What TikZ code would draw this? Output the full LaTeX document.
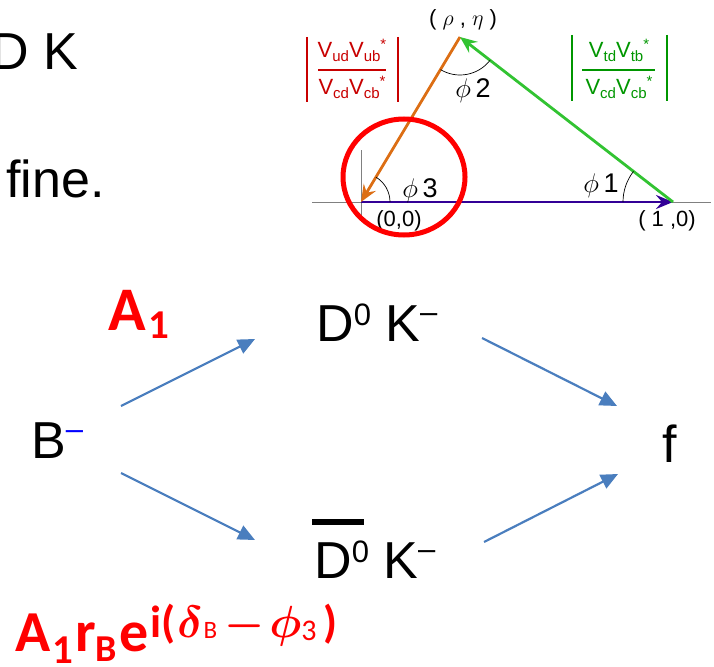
\documentclass[tikz,border=0pt]{standalone}
\usepackage{fix-cm}
\usepackage{fontspec}
\setmainfont{Liberation Sans}
\newfontfamily\calfont{Carlito}
\usetikzlibrary{arrows.meta}
\definecolor{arrowblue}{RGB}{74,126,190}
\definecolor{fracred}{RGB}{200,0,0}
\definecolor{fracgreen}{RGB}{0,150,0}
\definecolor{greenarrow}{RGB}{50,195,50}
\definecolor{orangearrow}{RGB}{220,110,20}
\definecolor{purplearrow}{RGB}{50,0,150}
\newcommand\mysup[1]{\raisebox{16pt}{\fontsize{31}{31}\selectfont #1}}
\newcommand\mysupm[1]{\raisebox{19pt}{\fontsize{31}{31}\selectfont\color{#1}–}}
\newcommand\lsub[1]{\raisebox{-4pt}{\fontsize{15}{15}\selectfont #1}}
\newcommand\lsup{\raisebox{8pt}{\fontsize{15}{15}\selectfont *}}
\tikzset{
  bigtxt/.style={font=\fontsize{52}{52}\selectfont, inner sep=0pt, anchor=base west},
  tritxt/.style={font=\fontsize{22}{22}\selectfont, inner sep=0pt},
  philab/.style={font=\fontsize{27}{27}\selectfont, inner sep=0pt},
  fractxt/.style={font=\fontsize{22}{22}\selectfont, inner sep=0pt, anchor=base},
  flow/.style={draw=arrowblue, line width=2.2pt, -{Triangle[length=17pt,width=15pt]}},
  vec/.style={line width=2.8pt, -{Stealth[length=17pt,width=14pt,inset=6pt]}},
  anglearc/.style={draw=black, line width=0.7pt},
  fracline/.style={line width=1.6pt}
}
\begin{document}
\begin{tikzpicture}[x=1pt,y=-1pt]
\useasboundingbox (0,0) rectangle (714,666);
\clip (0,0) rectangle (714,666);

% top-left cut text
\node[bigtxt] (dk) at (-9,70) {D K};
\node[bigtxt] (fine) at (6,197) {fine.};

% unitarity triangle
\coordinate (axL) at (312,202);
\coordinate (axR) at (711,202);
\coordinate (vT) at (361,150);
\coordinate (vB) at (361,222);
\coordinate (O) at (361,202);
\coordinate (P) at (673,202);
\coordinate (A) at (460,37);
\draw[gray, line width=0.8pt] (axL) -- (axR);
\draw[gray, line width=0.8pt] (vT) -- (vB);
\draw[vec, purplearrow] (O) -- (P);
\draw[vec, orangearrow] (A) -- (O);
\draw[vec, greenarrow] (P) -- (A);
\draw[anglearc] (O) ++(29,0) arc[start angle=0, end angle=-59, radius=29];
\draw[anglearc] (P) ++(-50,0) arc[start angle=180, end angle=217.76, radius=50];
\draw[anglearc] (A) ++(37.76:38) arc[start angle=37.76, end angle=120.96, radius=38];

\node[philab] (phi2) at (473,91) {$\phi$\,2};
\node[philab] (phi3) at (420,191) {$\phi$\,3};
\node[philab] (phi1) at (601,186) {$\phi$\,1};
\node[tritxt] (rhoeta) at (463,20) {( $\rho$ , $\eta$ )};
\node[tritxt] (orig) at (399,221) {(0,0)};
\node[tritxt] (one) at (667,221) {( 1 ,0)};

% red fraction
\node[fractxt, text=fracred] (n1) at (352,58) {V\lsub{ud}V\lsub{ub}\lsup};
\node[fractxt, text=fracred] (d1) at (352,95) {V\lsub{cd}V\lsub{cb}\lsup};
\coordinate (f1a) at (318,70); \coordinate (f1b) at (386,70);
\coordinate (b1a) at (307,37); \coordinate (b1b) at (307,102);
\coordinate (b1c) at (398,37); \coordinate (b1d) at (398,102);
\draw[fracred, fracline] (f1a) -- (f1b);
\draw[fracred, fracline] (b1a) -- (b1b);
\draw[fracred, fracline] (b1c) -- (b1d);

% green fraction
\node[fractxt, text=fracgreen] (n2) at (619,58) {V\lsub{td}V\lsub{tb}\lsup};
\node[fractxt, text=fracgreen] (d2) at (619,95) {V\lsub{cd}V\lsub{cb}\lsup};
\coordinate (f2a) at (582,70); \coordinate (f2b) at (655,70);
\coordinate (b2a) at (572,35); \coordinate (b2b) at (572,101);
\coordinate (b2c) at (667,35); \coordinate (b2d) at (667,101);
\draw[fracgreen, fracline] (f2a) -- (f2b);
\draw[fracgreen, fracline] (b2a) -- (b2b);
\draw[fracgreen, fracline] (b2c) -- (b2d);

% red circle
\draw[red, line width=5pt] (404,177) ellipse [x radius=61, y radius=58];

% decay diagram
\node[bigtxt] (bm) at (31,458) {B\mysupm{blue}};
\node[bigtxt] (dk1) at (316,341) {D\mysup{0} K\mysupm{black}};
\node[bigtxt] (dk2) at (314,578) {D\mysup{0} K\mysupm{black}};
\coordinate (barL) at (312,522); \coordinate (barR) at (364,522);
\draw[line width=6pt] (barL) -- (barR);
\node[bigtxt] (fin) at (662,462) {f};

\coordinate (a1s) at (121,406); \coordinate (a1e) at (255,339);
\coordinate (a2s) at (482,338); \coordinate (a2e) at (617,406);
\coordinate (a3s) at (121,473); \coordinate (a3e) at (255,540);
\coordinate (a4s) at (484,542); \coordinate (a4e) at (618,474);
\draw[flow] (a1s) -- (a1e);
\draw[flow] (a2s) -- (a2e);
\draw[flow] (a3s) -- (a3e);
\draw[flow] (a4s) -- (a4e);

% amplitudes
\node[inner sep=0pt, anchor=base west, text=red] (amp1) at (108,330)
  {\calfont\bfseries\fontsize{62}{62}\selectfont A\kern3pt\raisebox{-8pt}{\fontsize{41}{41}\selectfont 1}};
\node[inner sep=0pt, anchor=base west, text=red] (amp2) at (15,651)
  {\calfont\bfseries\fontsize{58}{58}\selectfont A\kern2pt\raisebox{-12pt}{\fontsize{41}{41}\selectfont 1}\kern2pt r\raisebox{-10pt}{\fontsize{38}{38}\selectfont B}\kern2pt e\kern2pt\raisebox{14pt}{\fontsize{45}{45}\selectfont\boldmath i(\kern2pt$\delta$\kern1pt\raisebox{-1pt}{\mdseries\fontsize{25}{25}\selectfont B}\kern7pt$-$\kern5pt$\phi$\raisebox{-3pt}{\mdseries\fontsize{30}{30}\selectfont 3}\kern7pt)}};
\end{tikzpicture}
\end{document}
